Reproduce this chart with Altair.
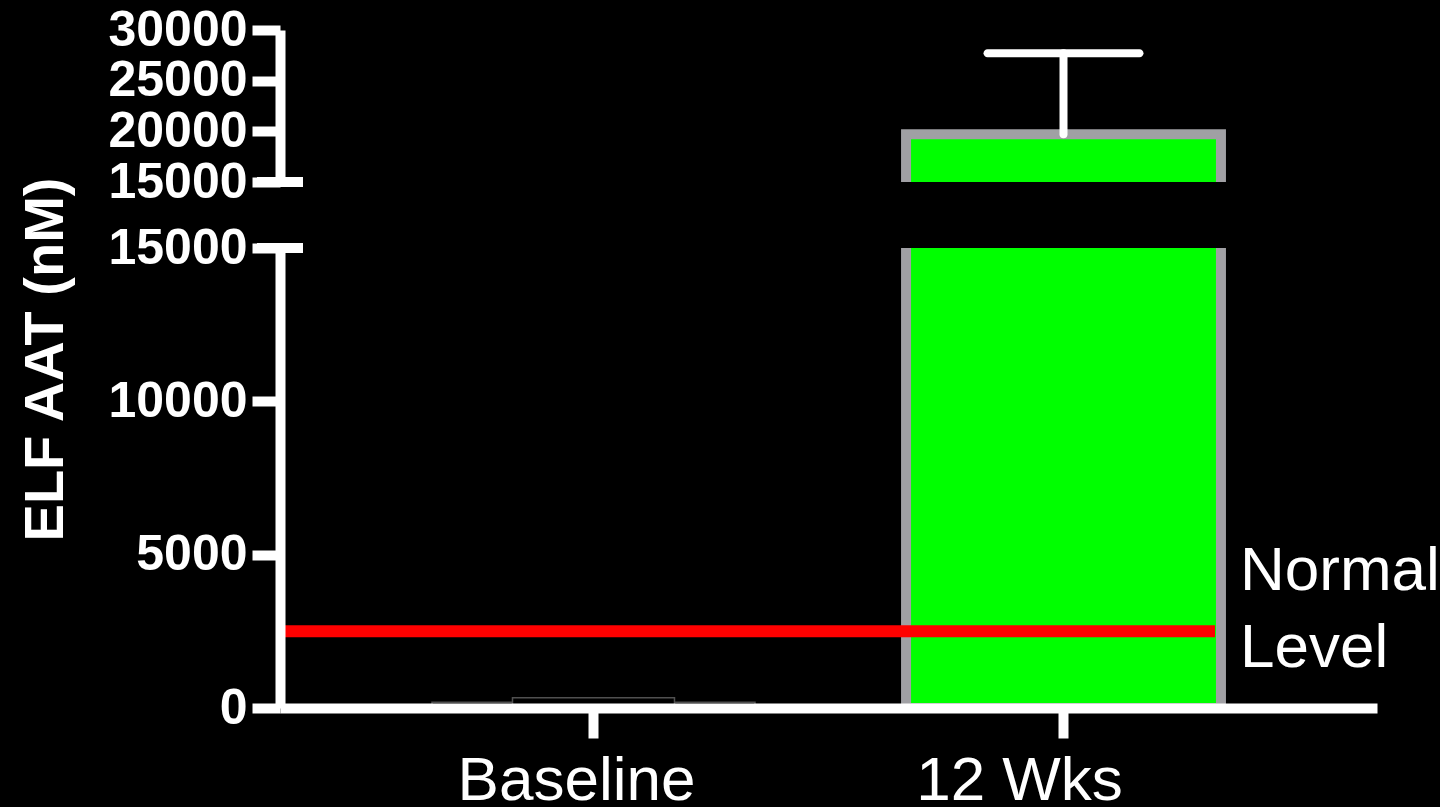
import altair as alt
import pandas as pd

# ---- data ----
categories = ["Baseline", "12 Wks"]
means = [190, 19700]
err_upper = [200, 27700]
normal_level = 2500
lower_ticks = [0, 5000, 10000, 15000]
upper_ticks = [15000, 20000, 25000, 30000]
y_title = "ELF AAT (nM)"
note_lines = ["Normal", "Level"]

df = pd.DataFrame({"group": categories, "mean": means, "upper": err_upper})
base_df = df[df["group"] == "Baseline"]
wk_df = df[df["group"] == "12 Wks"]

FONT = "Liberation Sans"
W = 1097
H_UP = 152
H_LO = 460

xscale = alt.Scale(domain=categories, paddingInner=0.33, paddingOuter=0.332)

common_axis = dict(
    labelFont=FONT, labelColor="white", domainColor="white", domainWidth=10,
    tickColor="white", tickWidth=10, grid=False, zindex=1, labelLimit=0,
)

y_axis_lo = alt.Axis(
    values=lower_ticks, format="d", title=y_title, titleFont=FONT, titleFontSize=56,
    titleFontWeight="bold", titleColor="white", titleAngle=-90, titleX=-218, titleY=111,
    titleAlign="center", titleBaseline="alphabetic",
    labelFontSize=50, labelFontWeight="bold", labelPadding=5, tickSize=28,
    labelOverlap=False, labelFlush=False, **common_axis,
)
y_axis_up = alt.Axis(
    values=upper_ticks, format="d", title=None,
    labelFontSize=50, labelFontWeight="bold", labelPadding=5, tickSize=28,
    labelOverlap=False, labelFlush=False, **common_axis,
)
x_axis_lo = alt.Axis(
    title=None, labelFontSize=62, labelFontWeight="normal", labelAngle=0,
    tickSize=30, labelPadding=12,
    labelOffset=alt.ExprRef(expr="datum.value == '12 Wks' ? -44 : -17"),
    **common_axis,
)

ys_lo = alt.Scale(domain=[0, 15000], nice=False, zero=False)
ys_up = alt.Scale(domain=[15000, 30000], nice=False, zero=False)

# ---------- upper panel ----------
x_up = alt.X("group:N", scale=xscale, axis=None, sort=categories)

up_bar = alt.Chart(wk_df).mark_bar(
    color="#00FF00", stroke="#A0A0A4", strokeWidth=10, clip=True
).encode(x=x_up, y=alt.Y("mean:Q", scale=ys_up, axis=y_axis_up))

up_err = alt.Chart(wk_df).mark_rule(color="white", strokeWidth=8, strokeCap="round").encode(
    x=x_up, y=alt.Y("mean:Q", scale=ys_up, axis=y_axis_up), y2="upper:Q"
)
up_cap = alt.Chart(wk_df).mark_tick(
    color="white", thickness=8, size=160, cornerRadius=4, opacity=1
).encode(x=x_up, y=alt.Y("upper:Q", scale=ys_up, axis=y_axis_up))
up_break = alt.Chart(wk_df).mark_rule(color="white", strokeWidth=10).encode(
    y=alt.Y(datum=15000, type="quantitative", scale=ys_up, axis=y_axis_up),
    x=alt.value(-23), x2=alt.value(23),
)
upper = alt.layer(up_bar, up_err, up_cap, up_break).properties(width=W, height=H_UP)

# ---------- lower panel ----------
x_lo = alt.X("group:N", scale=xscale, axis=x_axis_lo, sort=categories)

lo_bar = alt.Chart(wk_df).mark_bar(
    color="#00FF00", stroke="#A0A0A4", strokeWidth=10, clip=True
).encode(x=x_lo, y=alt.Y("mean:Q", scale=ys_lo, axis=y_axis_lo))

lo_base = alt.Chart(base_df).mark_bar(
    color="black", stroke="#505050", strokeWidth=1.5, width=323
).encode(x=x_lo, y=alt.Y("mean:Q", scale=ys_lo, axis=y_axis_lo))

lo_base_cap = alt.Chart(base_df).mark_tick(
    color="black", stroke="#505050", strokeWidth=1.5, thickness=8, size=162, opacity=1
).encode(x=x_lo, y=alt.Y("upper:Q", scale=ys_lo, axis=y_axis_lo))

red = alt.Chart(wk_df).mark_rule(color="#FF0000", strokeWidth=12).encode(
    y=alt.Y(datum=normal_level, type="quantitative", scale=ys_lo, axis=y_axis_lo),
    x=alt.value(5), x2=alt.value(935),
)
note = alt.Chart(wk_df).mark_text(
    text=note_lines, font=FONT, fontSize=62, color="white", align="left",
    baseline="alphabetic", lineHeight=77, dy=-41,
).encode(
    y=alt.Y(datum=normal_level, type="quantitative", scale=ys_lo, axis=y_axis_lo),
    x=alt.value(960),
)
lo_break = alt.Chart(wk_df).mark_rule(color="white", strokeWidth=10).encode(
    y=alt.Y(datum=15000, type="quantitative", scale=ys_lo, axis=y_axis_lo),
    x=alt.value(-23), x2=alt.value(23),
)
lower = alt.layer(lo_bar, lo_base, lo_base_cap, red, note, lo_break).properties(
    width=W, height=H_LO
)

chart = alt.vconcat(upper, lower, spacing=66, bounds="flush").properties(
    padding={"left": 17, "top": 5, "right": 0, "bottom": 0}
).configure(background="black").configure_view(stroke=None)

chart.save("out.html", embed_options={"renderer": "svg", "actions": False})
